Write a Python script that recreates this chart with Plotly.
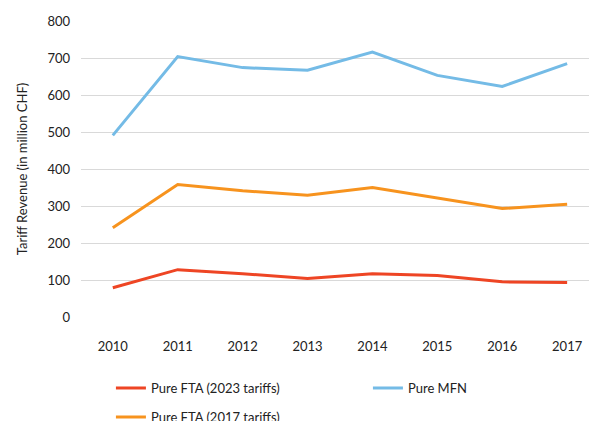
import plotly.graph_objects as go

years = [2010, 2011, 2012, 2013, 2014, 2015, 2016, 2017]
fta_2023 = [79, 128, 117, 104, 117, 112, 95, 93]
mfn = [491, 704, 674, 667, 716, 653, 623, 685]
fta_2017 = [241, 358, 341, 329, 350, 322, 293, 305]

series_names = ["Pure FTA (2023 tariffs)", "Pure MFN", "Pure FTA (2017 tariffs)"]
series_vals = [fta_2023, mfn, fta_2017]
colors = ["#EE4524", "#74BBE6", "#F7931E"]
legend_ids = ["legend", "legend", "legend2"]

y_ticks = [0, 100, 200, 300, 400, 500, 600, 700, 800]

fig = go.Figure()
for name, vals, c, lg in zip(series_names, series_vals, colors, legend_ids):
    fig.add_trace(go.Scatter(x=years, y=vals, mode="lines", name=name,
                             line=dict(color=c, width=3), legend=lg))

FAM = "Lato, Open Sans, sans-serif"
font = dict(family=FAM, size=13, color="#222222")
leg_common = dict(orientation="h", xanchor="left", yanchor="middle",
                  entrywidth=212, entrywidthmode="pixels",
                  font=font, bgcolor="rgba(0,0,0,0)", borderwidth=0)
fig.update_layout(
    width=597, height=421,
    margin=dict(l=73, r=8, t=13, b=112, autoexpand=False),
    paper_bgcolor="white", plot_bgcolor="white",
    font=font,
    showlegend=True,
    legend=dict(x=0.058, y=-0.240, **leg_common),
    legend2=dict(x=0.058, y=-0.338, **leg_common),
    xaxis=dict(range=[2009.51, 2017.46], tickvals=years, ticktext=[str(y) for y in years],
               showgrid=False, zeroline=False, showline=False, ticks="",
               ticklabelstandoff=20, tickfont=font, automargin=False),
    yaxis=dict(range=[0, 800], tickvals=y_ticks, showgrid=True, gridcolor="#D9D9D9",
               gridwidth=1, zeroline=False, showline=False, ticks="",
               ticklabelstandoff=10, tickfont=font, automargin=False,
               title=dict(text="Tariff Revenue (in million CHF)", standoff=16, font=font)),
)
fig.write_html("out.html")
